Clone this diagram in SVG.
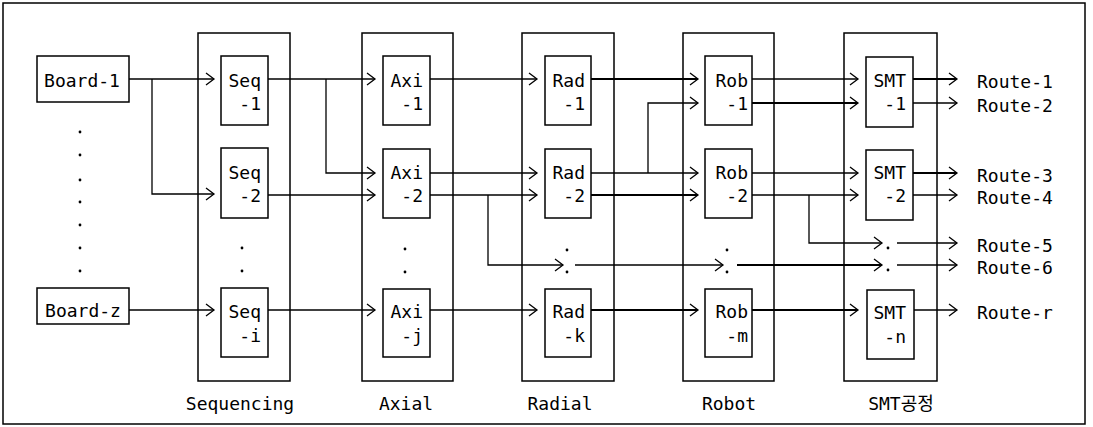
<svg xmlns="http://www.w3.org/2000/svg" width="1093" height="427" viewBox="0 0 1093 427">
<style>
.frame{fill:none;stroke:#000;stroke-width:1.5}
.box{fill:#fff;stroke:#000;stroke-width:1.5}
.t{font-family:"DejaVu Sans Mono","Liberation Mono","Noto Sans CJK KR",monospace;font-size:18px;fill:#000}
.c path{fill:none;stroke:#000;stroke-width:1.3}
.c path.thick{stroke-width:2.2}
.dot{fill:#000}
</style>
<defs>
<marker id="ch" markerUnits="userSpaceOnUse" markerWidth="12" markerHeight="14" viewBox="0 0 12 14" refX="9" refY="7" orient="auto">
<path d="M1,1 L9,7 L1,13" fill="none" stroke="#000" stroke-width="1.3"/>
</marker>
</defs>
<rect width="1093" height="427" fill="#fff"/>
<rect id="outer-frame" class="frame" x="3" y="3" width="1082" height="421"/>

<g id="stage-sequencing">
<rect class="frame" x="198" y="33" width="92" height="348"/>
<text class="t" x="240" y="410" text-anchor="middle">Sequencing</text>
</g>
<g id="stage-axial">
<rect class="frame" x="362" y="33" width="91" height="348"/>
<text class="t" x="406" y="410" text-anchor="middle">Axial</text>
</g>
<g id="stage-radial">
<rect class="frame" x="522" y="33" width="92" height="348"/>
<text class="t" x="560" y="410" text-anchor="middle">Radial</text>
</g>
<g id="stage-robot">
<rect class="frame" x="683" y="33" width="91" height="348"/>
<text class="t" x="729" y="410" text-anchor="middle">Robot</text>
</g>
<g id="stage-smt">
<rect class="frame" x="844" y="33" width="93" height="348"/>
<text class="t" x="901" y="410" text-anchor="middle">SMT공정</text>
</g>

<g id="connectors" class="c">
<path d="M129,79 H214" marker-end="url(#ch)"/>
<path d="M152,79 V194 H214" marker-end="url(#ch)"/>
<path d="M129,310 H214" marker-end="url(#ch)"/>
<path d="M268,79 H375" marker-end="url(#ch)"/>
<path d="M326,79 V173 H375" marker-end="url(#ch)"/>
<path d="M268,195 H375" marker-end="url(#ch)"/>
<path d="M268,310 H375" marker-end="url(#ch)"/>
<path d="M430,79 H537" marker-end="url(#ch)"/>
<path d="M430,173 H537" marker-end="url(#ch)"/>
<path d="M430,195 H537" marker-end="url(#ch)"/>
<path d="M488,195 V265 H563" marker-end="url(#ch)"/>
<path d="M430,310 H537" marker-end="url(#ch)"/>
<path class="thick" d="M591,79 H698" marker-end="url(#ch)"/>
<path d="M591,173 H698" marker-end="url(#ch)"/>
<path d="M648,173 V103 H698" marker-end="url(#ch)"/>
<path class="thick" d="M591,195 H698" marker-end="url(#ch)"/>
<path d="M575,265 H723" marker-end="url(#ch)"/>
<path class="thick" d="M591,310 H698" marker-end="url(#ch)"/>
<path d="M752,79 H858" marker-end="url(#ch)"/>
<path class="thick" d="M752,103 H858" marker-end="url(#ch)"/>
<path d="M752,173 H858" marker-end="url(#ch)"/>
<path d="M752,195 H858" marker-end="url(#ch)"/>
<path d="M809,195 V243 H882" marker-end="url(#ch)"/>
<path class="thick" d="M737,265 H882" marker-end="url(#ch)"/>
<path class="thick" d="M752,310 H858" marker-end="url(#ch)"/>
<path class="thick" d="M913,79 H957" marker-end="url(#ch)"/>
<path d="M913,103 H957" marker-end="url(#ch)"/>
<path class="thick" d="M913,173 H957" marker-end="url(#ch)"/>
<path d="M913,195 H957" marker-end="url(#ch)"/>
<path d="M897,243 H957" marker-end="url(#ch)"/>
<path d="M897,265 H957" marker-end="url(#ch)"/>
<path d="M914,310 H957" marker-end="url(#ch)"/>
</g>

<g id="board-1">
<rect class="box" x="37" y="56" width="92" height="46"/>
<text class="t" x="82" y="87" text-anchor="middle">Board-1</text>
</g>
<g id="board-dots" class="dot">
<circle cx="80" cy="132" r="1.4"/><circle cx="80" cy="155" r="1.4"/><circle cx="80" cy="180" r="1.4"/><circle cx="80" cy="202" r="1.4"/><circle cx="80" cy="225" r="1.4"/><circle cx="80" cy="248" r="1.4"/><circle cx="80" cy="271" r="1.4"/>
</g>
<g id="board-z">
<rect class="box" x="37" y="288" width="92" height="36"/>
<text class="t" x="83" y="317" text-anchor="middle">Board-z</text>
</g>

<g id="seq-1"><rect class="box" x="221" y="56" width="47" height="69"/><text class="t" x="261" y="87" text-anchor="end">Seq</text><text class="t" x="261" y="110" text-anchor="end">-1</text></g>
<g id="seq-2"><rect class="box" x="221" y="148" width="47" height="70"/><text class="t" x="261" y="179" text-anchor="end">Seq</text><text class="t" x="261" y="202" text-anchor="end">-2</text></g>
<g id="seq-dots" class="dot"><circle cx="242" cy="248" r="1.4"/><circle cx="242" cy="271" r="1.4"/></g>
<g id="seq-i"><rect class="box" x="221" y="288" width="47" height="69"/><text class="t" x="261" y="318" text-anchor="end">Seq</text><text class="t" x="261" y="342" text-anchor="end">-i</text></g>

<g id="axi-1"><rect class="box" x="383" y="56" width="47" height="69"/><text class="t" x="423" y="87" text-anchor="end">Axi</text><text class="t" x="423" y="110" text-anchor="end">-1</text></g>
<g id="axi-2"><rect class="box" x="383" y="149" width="47" height="69"/><text class="t" x="423" y="179" text-anchor="end">Axi</text><text class="t" x="423" y="202" text-anchor="end">-2</text></g>
<g id="axi-dots" class="dot"><circle cx="405" cy="249" r="1.4"/><circle cx="405" cy="272" r="1.4"/></g>
<g id="axi-j"><rect class="box" x="383" y="289" width="47" height="68"/><text class="t" x="423" y="318" text-anchor="end">Axi</text><text class="t" x="423" y="342" text-anchor="end">-j</text></g>

<g id="rad-1"><rect class="box" x="545" y="56" width="46" height="69"/><text class="t" x="585" y="87" text-anchor="end">Rad</text><text class="t" x="585" y="110" text-anchor="end">-1</text></g>
<g id="rad-2"><rect class="box" x="545" y="149" width="46" height="69"/><text class="t" x="585" y="179" text-anchor="end">Rad</text><text class="t" x="585" y="202" text-anchor="end">-2</text></g>
<g id="rad-dots" class="dot"><circle cx="567" cy="250" r="1.4"/><circle cx="567" cy="272" r="1.4"/></g>
<g id="rad-k"><rect class="box" x="545" y="289" width="46" height="68"/><text class="t" x="585" y="318" text-anchor="end">Rad</text><text class="t" x="585" y="342" text-anchor="end">-k</text></g>

<g id="rob-1"><rect class="box" x="705" y="56" width="47" height="69"/><text class="t" x="748" y="87" text-anchor="end">Rob</text><text class="t" x="748" y="110" text-anchor="end">-1</text></g>
<g id="rob-2"><rect class="box" x="705" y="149" width="47" height="69"/><text class="t" x="748" y="179" text-anchor="end">Rob</text><text class="t" x="748" y="202" text-anchor="end">-2</text></g>
<g id="rob-dots" class="dot"><circle cx="727" cy="250" r="1.4"/><circle cx="727" cy="272" r="1.4"/></g>
<g id="rob-m"><rect class="box" x="705" y="289" width="47" height="68"/><text class="t" x="748" y="318" text-anchor="end">Rob</text><text class="t" x="748" y="342" text-anchor="end">-m</text></g>

<g id="smt-1"><rect class="box" x="866" y="57" width="47" height="70"/><text class="t" x="906" y="87" text-anchor="end">SMT</text><text class="t" x="906" y="110" text-anchor="end">-1</text></g>
<g id="smt-2"><rect class="box" x="866" y="150" width="47" height="70"/><text class="t" x="906" y="179" text-anchor="end">SMT</text><text class="t" x="906" y="202" text-anchor="end">-2</text></g>
<g id="smt-dots" class="dot"><circle cx="888" cy="248" r="1.4"/><circle cx="888" cy="270" r="1.4"/></g>
<g id="smt-n"><rect class="box" x="867" y="290" width="47" height="69"/><text class="t" x="906" y="319" text-anchor="end">SMT</text><text class="t" x="906" y="343" text-anchor="end">-n</text></g>

<g id="routes">
<text class="t" x="977" y="88">Route-1</text>
<text class="t" x="977" y="112">Route-2</text>
<text class="t" x="977" y="182">Route-3</text>
<text class="t" x="977" y="204">Route-4</text>
<text class="t" x="977" y="252">Route-5</text>
<text class="t" x="977" y="274">Route-6</text>
<text class="t" x="977" y="319">Route-r</text>
</g>
</svg>
